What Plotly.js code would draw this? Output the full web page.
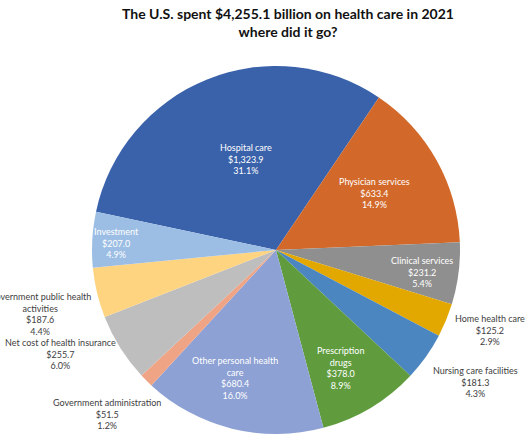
<!DOCTYPE html>
<html>
<head>
<meta charset="utf-8">
<script src="https://cdn.plot.ly/plotly-3.0.1.min.js"></script>
<style>html,body{margin:0;padding:0;background:#fff;}#chart{width:530px;height:442px;}</style>
</head>
<body>
<div id="chart"></div>
<script>
// ---- data ----
var categories = ["Hospital care","Physician services","Clinical services","Home health care","Nursing care facilities","Prescription drugs","Other personal health care","Government administration","Net cost of health insurance","Government public health activities","Investment"];
var displayLabels = ["Hospital care","Physician services","Clinical services","Home health care","Nursing care facilities","Prescription<br>drugs","Other personal health<br>care","Government administration","Net cost of health insurance","Government public health<br>activities","Investment"];
var values = [1323.9, 633.4, 231.2, 125.2, 181.3, 378.0, 680.4, 51.5, 255.7, 187.6, 207.0];
var colors = ["#3A62AA","#D2692A","#8F8F8F","#E2A800","#4B86C0","#609C3E","#8DA1D4","#F0A486","#BEBEBE","#FFD480","#9CBEE4"];

// ---- label styling (radius factor, angle nudge, inside/outside) ----
var labelRadius = [0.52,0.62,0.80,1.24,1.30,0.73,0.73,1.28,1.30,1.33,0.87];
var labelAngleShift = [4,-0.6,1.3,-1.8,-1.8,2.4,4,1.2,6.5,-1.8,-0.7];
var labelInside = [true,true,true,false,false,true,true,false,false,false,true];

var W = 530, H = 442;
var cx = 276, cy = 250, R = 184;
var rotation = 282;

var total = values.reduce(function(a,b){return a+b;},0);
var annotations = [];
var cum = 0;
for (var i=0;i<values.length;i++){
  var mid = cum + values[i]/2;
  cum += values[i];
  var ang = (rotation + 360*mid/total + labelAngleShift[i]) * Math.PI/180;
  var px = cx + labelRadius[i]*R*Math.sin(ang);
  var py = cy - labelRadius[i]*R*Math.cos(ang);
  var pct = (100*values[i]/total).toFixed(1);
  var valStr = '$' + values[i].toLocaleString('en-US',{minimumFractionDigits:1,maximumFractionDigits:1});
  annotations.push({
    xref:'paper', yref:'paper', x: px/W, y: 1-py/H,
    xanchor:'center', yanchor:'middle', showarrow:false,
    text: displayLabels[i] + '<br>' + valStr + '<br>' + pct + '%',
    font:{family:'Lato, "Open Sans", sans-serif', size:9, color: labelInside[i] ? '#FFFFFF' : '#404040'}
  });
}

var trace = {
  type:'pie',
  labels: categories,
  values: values,
  sort:false,
  direction:'clockwise',
  rotation: rotation,
  marker:{colors: colors, line:{width:0}},
  textinfo:'none',
  hoverinfo:'skip',
  domain:{x:[(cx-R)/W,(cx+R)/W], y:[(H-cy-R)/H,(H-cy+R)/H]}
};

var layout = {
  width:W, height:H,
  margin:{l:0,r:0,t:0,b:0},
  paper_bgcolor:'#fff',
  showlegend:false,
  title:{
    text:'The U.S. spent $4,255.1 billion on health care in 2021<br>where did it go?',
    font:{family:'Lato, "Open Sans", sans-serif', size:14, color:'#111', weight:'bold'},
    x:288/W, xanchor:'center', xref:'paper',
    y:1-19/H, yanchor:'top', yref:'container'
  },
  annotations: annotations
};

Plotly.newPlot('chart',[trace],layout,{displayModeBar:false,staticPlot:true});
</script>
</body>
</html>
